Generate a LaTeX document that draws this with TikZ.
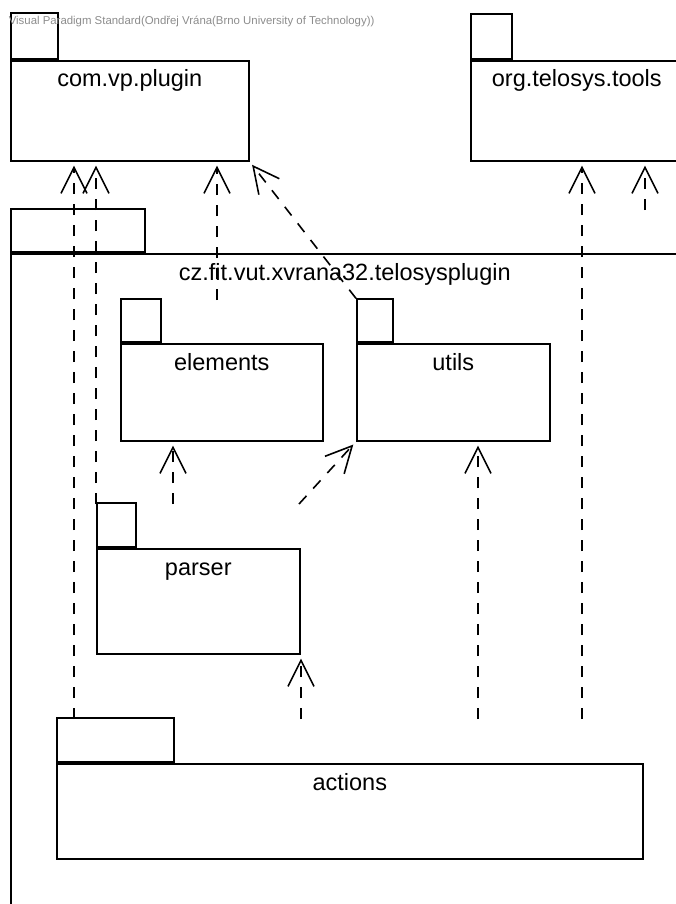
\documentclass[tikz,border=0pt]{standalone}
\usepackage{fontspec}
\setmainfont{Liberation Sans}
\usetikzlibrary{arrows.meta,positioning}

\begin{document}
\begin{tikzpicture}[x=1pt,y=-1pt,line width=1.6pt,
    pkg/.style={draw,rectangle,inner sep=0pt,anchor=north west},
    tab/.style={draw,rectangle,inner sep=0pt,anchor=south west},
    pkgname/.style={anchor=base,yshift=-27pt,font=\fontsize{23.5}{26}\selectfont},
    dep/.style={draw,dash pattern=on 11pt off 10pt,shorten >=4pt,
                -{Straight Barb[length=26pt,width=26pt]}}]

  \useasboundingbox (0,0) rectangle (676,904);
  \clip (0,0) rectangle (676,904);

  % packages
  \node[pkg,minimum width=668pt,minimum height=700pt,
        label={[pkgname]north:cz.fit.vut.xvrana32.telosysplugin}] (telosys) at (10,253) {};
  \node[tab,minimum width=134pt,minimum height=43pt] (telosys tab) at (telosys.north west) {};

  \node[pkg,minimum width=238pt,minimum height=100pt,
        label={[pkgname]north:com.vp.plugin}] (plugin) at (10,60) {};
  \node[tab,minimum width=47pt,minimum height=46pt] (plugin tab) at (plugin.north west) {};

  \node[pkg,minimum width=212pt,minimum height=100pt,
        label={[pkgname]north:org.telosys.tools}] (tools) at (470,60) {};
  \node[tab,minimum width=41pt,minimum height=45pt] (tools tab) at (tools.north west) {};

  \node[pkg,minimum width=202pt,minimum height=97pt,
        label={[pkgname]north:elements}] (elements) at (120,343) {};
  \node[tab,minimum width=40pt,minimum height=43pt] (elements tab) at (elements.north west) {};

  \node[pkg,minimum width=193pt,minimum height=97pt,
        label={[pkgname]north:utils}] (utils) at (356,343) {};
  \node[tab,minimum width=36pt,minimum height=43pt] (utils tab) at (utils.north west) {};

  \node[pkg,minimum width=203pt,minimum height=105pt,
        label={[pkgname]north:parser}] (parser) at (96,548) {};
  \node[tab,minimum width=39pt,minimum height=44pt] (parser tab) at (parser.north west) {};

  \node[pkg,minimum width=586pt,minimum height=95pt,
        label={[pkgname]north:actions}] (actions) at (56,763) {};
  \node[tab,minimum width=117pt,minimum height=44pt] (actions tab) at (actions.north west) {};

  % dependency starts
  \coordinate (act1) at (74,719);
  \coordinate (act2) at (301,719);
  \coordinate (act3) at (478,719);
  \coordinate (act4) at (582,719);
  \coordinate (par1) at (96,504);
  \coordinate (par2) at (173,504);
  \coordinate (par3) at (299,504);
  \coordinate (ele1) at (217,300);
  \coordinate (tel1) at (645,210);

  \path (act1) edge[dep] (act1 |- plugin.south)
        (par1) edge[dep] (par1 |- plugin.south)
        (ele1) edge[dep] (ele1 |- plugin.south)
        (utils tab.north west) edge[dep] (plugin.south east)
        (par3) edge[dep] (utils.south west)
        (par2) edge[dep] (par2 |- elements.south)
        (act2) edge[dep] (act2 |- parser.south)
        (act3) edge[dep] (act3 |- utils.south)
        (act4) edge[dep] (act4 |- tools.south)
        (tel1) edge[dep] (tel1 |- tools.south)
        ;

  \node[anchor=base west,inner sep=0pt,text=black!45,
        font=\fontsize{11.4}{12}\selectfont] (vp) at (8,25)
        {Visual Paradigm Standard(Ondřej Vrána(Brno University of Technology))};
\end{tikzpicture}
\end{document}
